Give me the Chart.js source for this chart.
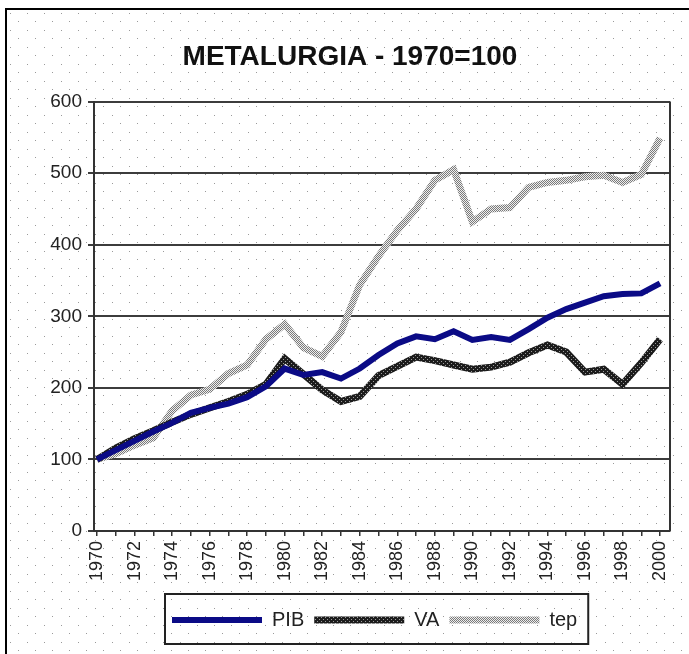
<!DOCTYPE html>
<html>
<head>
<meta charset="utf-8">
<script src="https://cdn.jsdelivr.net/npm/chart.js@4.4.1/dist/chart.umd.min.js"></script>
<style>
  html, body { margin: 0; padding: 0; background: #fff; }
  body { width: 689px; height: 654px; position: relative; overflow: hidden; }
  #fundo {
    position: absolute; left: 5px; top: 8px; width: 700px; height: 660px;
    border-top: 2px solid #000; border-left: 2px solid #000;
  }
  #grafico { position: absolute; left: 0; top: 0; }
</style>
</head>
<body>
<div id="fundo"></div>
<canvas id="grafico" width="689" height="654"></canvas>
<script>
// Metalurgia - indices 1970=100
const anos = [1970, 1971, 1972, 1973, 1974, 1975, 1976, 1977, 1978, 1979,
              1980, 1981, 1982, 1983, 1984, 1985, 1986, 1987, 1988, 1989,
              1990, 1991, 1992, 1993, 1994, 1995, 1996, 1997, 1998, 1999, 2000];
const pib = [100, 113, 126, 139, 151, 165, 172, 178, 187, 202,
             227, 218, 222, 213, 227, 246, 262, 272, 268, 279,
             267, 271, 267, 282, 298, 310, 319, 328, 331, 332, 346];
const va  = [100, 116, 129, 140, 152, 163, 172, 181, 191, 205,
             241, 219, 197, 181, 188, 217, 230, 243, 238, 232,
             226, 229, 236, 249, 260, 250, 222, 226, 205, 235, 268];
const tep = [100, 108, 120, 130, 168, 190, 198, 220, 232, 268,
             289, 256, 244, 278, 344, 384, 420, 450, 490, 505,
             432, 450, 452, 480, 487, 490, 495, 497, 487, 498, 549];
const nomes = ["PIB", "VA", "tep"];
const titulo = "METALURGIA - 1970=100";

const fonte = "'Liberation Sans', Arial, sans-serif";

// fundo pontilhado
const tile = document.createElement("canvas");
tile.width = 17; tile.height = 17;
const tctx = tile.getContext("2d");
tctx.fillStyle = "#9a9a9a";
tctx.fillRect(0, 0, 1, 1);
tctx.fillRect(8, 8, 1, 1);
const fundo = document.getElementById("fundo");
fundo.style.backgroundImage = `url(${tile.toDataURL()})`;
fundo.style.backgroundPosition = "3px 3px";

const ctx = document.getElementById("grafico").getContext("2d");

// padroes das linhas (efeito pontilhado do original)
function padrao(fundoCor, pontoCor, pontos, tam) {
  const c = document.createElement("canvas");
  c.width = tam; c.height = tam;
  const g = c.getContext("2d");
  g.fillStyle = fundoCor;
  g.fillRect(0, 0, tam, tam);
  g.fillStyle = pontoCor;
  pontos.forEach(p => g.fillRect(p[0], p[1], 1, 1));
  return ctx.createPattern(c, "repeat");
}
const corVA = padrao("#1c1c1c", "#9c9c9c", [[1, 1], [3, 3]], 4);
const corTep = padrao("#eeeeee", "#7a7a7a", [[0, 0], [2, 0], [1, 1], [3, 1], [0, 2], [2, 2], [1, 3], [3, 3]], 4);

// desloca titulo e legenda para a posicao do original
function inicioLegenda(lg) {
  const pad = lg.options.labels.padding;
  return (lg.left + pad + lg.right - lg.lineWidths[0]) / 2;
}
const ajustes = {
  id: "ajustes",
  afterLayout(chart) {
    const t = chart.titleBlock;
    if (t) { t.left += 15; t.right += 15; }
    const lg = chart.legend;
    if (lg && lg.lineWidths) {
      const d = 172 - inicioLegenda(lg);
      lg.left += d; lg.right += d;
    }
  },
  afterDraw(chart) {
    const c = chart.ctx;
    const a = chart.chartArea;
    c.save();
    c.strokeStyle = "#333";
    c.lineWidth = 2;
    c.beginPath();
    c.moveTo(a.right, a.top);
    c.lineTo(a.right, a.bottom);
    c.stroke();
    const lg = chart.legend;
    const pad = lg.options.labels.padding;
    const x0 = inicioLegenda(lg);
    c.strokeStyle = "#222";
    c.strokeRect(x0 - 7, lg.top - 6, lg.lineWidths[0] - pad + 18, 50);
    c.restore();
  }
};

new Chart(ctx, {
  type: "line",
  data: {
    labels: anos,
    datasets: [
      { label: nomes[0], data: pib, borderColor: "#0b0b86", borderWidth: 6, pointRadius: 0, tension: 0 },
      { label: nomes[1], data: va, borderColor: corVA, borderWidth: 7, pointRadius: 0, tension: 0 },
      { label: nomes[2], data: tep, borderColor: corTep, borderWidth: 7, pointRadius: 0, tension: 0 }
    ]
  },
  options: {
    responsive: false,
    animation: false,
    devicePixelRatio: 1,
    layout: { padding: { left: 0, right: 19, top: 0, bottom: 14 } },
    scales: {
      x: {
        type: "linear",
        min: 1969.84,
        max: 2000.53,
        afterBuildTicks: s => { s.ticks = anos.map(a => ({ value: a })); },
        afterFit: s => { s.height = 69; },
        grid: { drawOnChartArea: false, drawTicks: true, tickLength: 5, color: "#333", lineWidth: 1.5 },
        border: { display: true, color: "#333", width: 2 },
        ticks: {
          autoSkip: false,
          minRotation: 90,
          maxRotation: 90,
          padding: 5,
          color: "#222",
          font: { family: fonte, size: 18 },
          callback: v => (v % 2 === 0 ? String(v) : "")
        }
      },
      y: {
        min: 0,
        max: 600,
        afterFit: s => { s.width = 94; },
        grid: { color: "#3c3c3c", lineWidth: 2, tickLength: 6 },
        border: { display: true, color: "#333", width: 2 },
        ticks: { stepSize: 100, padding: 6, color: "#222", font: { family: fonte, size: 19 } }
      }
    },
    plugins: {
      title: {
        display: true,
        text: titulo,
        color: "#111",
        font: { family: fonte, size: 28, weight: "bold" },
        padding: { top: 40, bottom: 28 }
      },
      legend: {
        position: "bottom",
        labels: {
          usePointStyle: true,
          pointStyle: "line",
          pointStyleWidth: 90,
          padding: 10,
          color: "#222",
          font: { family: fonte, size: 20 }
        }
      },
      tooltip: { enabled: false }
    }
  },
  plugins: [ajustes]
});
</script>
</body>
</html>
